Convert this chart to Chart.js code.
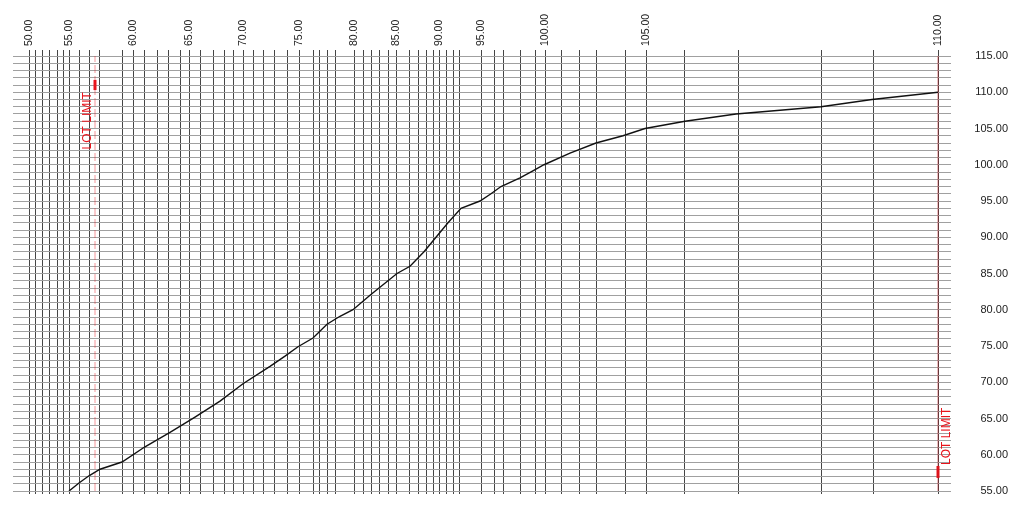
<!DOCTYPE html>
<html>
<head>
<meta charset="utf-8">
<script src="https://cdn.jsdelivr.net/npm/chart.js@4"></script>
<style>
  html, body { margin: 0; padding: 0; background: #fff; }
  #wrap { width: 1024px; height: 514px; }
</style>
</head>
<body>
<div id="wrap"><canvas id="profile"></canvas></div>
<script>
// stations (m) of the vertical grid lines along the profile
const gridStations = [0, 0.6, 1.3, 2.0, 2.8, 3.4, 4.0, 5.0, 6.0, 7.1, 9.3, 10.4, 11.5, 12.8, 13.9, 15.1, 16.0,
  17.1, 18.4, 19.5, 20.4, 21.4, 22.4, 23.4, 24.5, 25.8, 27.0, 28.4, 29.0, 29.8, 30.7, 32.5, 33.4, 34.2, 35.0,
  35.9, 36.7, 38.0, 38.9, 39.7, 40.4, 41.0, 41.7, 42.4, 43.0, 45.2, 46.5, 47.4, 49.1, 50.6, 51.6, 53.2, 55.0,
  56.7, 59.6, 61.7, 65.6, 70.9, 79.2, 84.4, 90.9]

// labelled stations on the top axis
const labelStations = [0, 4.0, 10.4, 16.0, 21.4, 27.0, 32.5, 36.7, 41.0, 45.2, 51.6, 61.7, 90.9]
const xTickLabels = ['50.00', '55.00', '60.00', '65.00', '70.00', '75.00', '80.00', '85.00', '90.00',
  '95.00', '100.00', '105.00', '110.00']

// ground profile
const profileStations = [4.0, 5.0, 6.0, 7.1, 9.3, 11.6, 14.1, 16.6, 19.1, 21.4, 24.1, 25.6, 26.9, 28.4, 29.8,
  31.1, 32.4, 34.1, 36.8, 38.1, 39.5, 40.7, 41.9, 43.2, 45.1, 46.2, 47.2, 49.1, 50.3, 51.5, 54.1, 56.7,
  59.4, 61.6, 65.6, 70.7, 79.2, 84.3, 90.9]
const profileElev = [55, 56.1, 57.1, 58, 59, 61.1, 63.1, 65.2, 67.4, 69.8, 72.2, 73.6, 74.9, 76.1, 78,
  79.1, 80, 82, 85, 86, 88, 90, 92, 94, 95, 96, 97, 98.2, 99.1, 100, 101.6, 103, 104, 105, 106, 107,
  108, 109, 110]

// lot limits
const lotStations = [6.6, 90.9]
const lotMarkFrom = [110.3, 56.8]
const lotMarkTo = [111.7, 58.45]
const lotLabels = ['LOT LIMIT', 'LOT LIMIT']

const yMin = 55, yMax = 115

const FONT = 'Liberation Sans, Arial, sans-serif'
const RED = '#e8141c'

const datasets = [{
  data: profileStations.map((s, i) => ({x: s, y: profileElev[i]})),
  borderColor: '#111', borderWidth: 1.4, pointRadius: 0, tension: 0, fill: false
}]
lotStations.forEach((s, i) => {
  datasets.push({
    data: [{x: s, y: yMin}, {x: s, y: yMax}],
    borderColor: i === 0 ? 'rgba(232,20,28,0.45)' : 'rgba(190,20,28,0.55)',
    borderWidth: 1, borderDash: i === 0 ? [8, 3] : [], pointRadius: 0
  })
  datasets.push({
    data: [{x: s, y: lotMarkFrom[i]}, {x: s, y: lotMarkTo[i]}],
    borderColor: RED, borderWidth: 3, pointRadius: 0, borderCapStyle: 'butt'
  })
})

// writes LOT LIMIT next to each limit line
const lotText = {
  id: 'lotText',
  afterDatasetsDraw(chart) {
    const {ctx, scales: {x, y}} = chart
    ctx.save()
    ctx.fillStyle = RED
    ctx.font = '12px ' + FONT
    ctx.textBaseline = 'middle'
    lotStations.forEach((s, i) => {
      const px = x.getPixelForValue(s)
      ctx.save()
      if (i === 0) {
        ctx.translate(px - 7, y.getPixelForValue(lotMarkFrom[i]) + 2)
        ctx.rotate(-Math.PI / 2)
        ctx.textAlign = 'right'
      } else {
        ctx.translate(px + 9, y.getPixelForValue(lotMarkTo[i]) - 1)
        ctx.rotate(-Math.PI / 2)
        ctx.textAlign = 'left'
      }
      ctx.fillText(lotLabels[i], 0, 0)
      ctx.restore()
    })
    ctx.restore()
  }
}

const setGridTicks = scale => { scale.ticks = gridStations.map(v => ({value: v})) }

new Chart(document.getElementById('profile'), {
  type: 'line',
  data: {datasets},
  options: {
    responsive: true,
    maintainAspectRatio: false,
    animation: false,
    layout: {padding: {left: 13, right: 16, top: 0, bottom: 0}},
    plugins: {legend: {display: false}, tooltip: {enabled: false}},
    scales: {
      x: {
        type: 'linear', position: 'top', min: -1.6, max: 92.2,
        afterBuildTicks: setGridTicks,
        afterFit: s => { s.height = 56 },
        border: {display: false},
        grid: {color: '#454545', lineWidth: 1, tickLength: 6},
        ticks: {
          autoSkip: false, minRotation: 90, maxRotation: 90, padding: 4, labelOffset: 13,
          color: '#222', font: {family: FONT, size: 10.5},
          callback: v => {
            const k = labelStations.indexOf(v)
            return k >= 0 ? xTickLabels[k] : ''
          }
        }
      },
      x2: {
        type: 'linear', position: 'bottom', min: -1.6, max: 92.2,
        afterBuildTicks: setGridTicks,
        afterFit: s => { s.height = 23 },
        border: {display: false},
        grid: {color: '#454545', lineWidth: 1, tickLength: 3, drawOnChartArea: false},
        ticks: {display: false}
      },
      y: {
        type: 'linear', position: 'right', min: yMin, max: yMax,
        afterFit: s => { s.width = 57; s.paddingTop = 0; s.paddingBottom = 0 },
        border: {display: false},
        grid: {color: '#a0a0a0', lineWidth: 1, drawTicks: false},
        ticks: {
          stepSize: 1, autoSkip: false, padding: 23, crossAlign: 'far',
          color: '#222', font: {family: FONT, size: 11},
          callback: v => (v % 5 === 0 ? v.toFixed(2) : '')
        }
      }
    }
  },
  plugins: [lotText]
})
</script>
</body>
</html>
